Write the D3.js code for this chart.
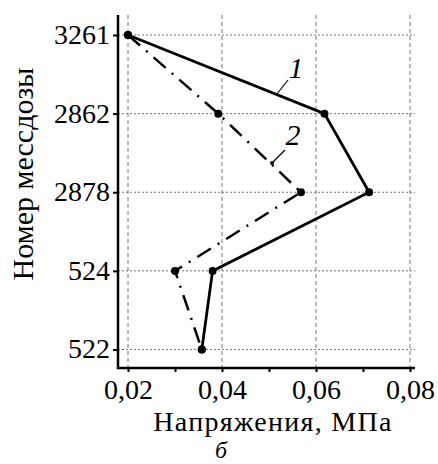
<!DOCTYPE html>
<html>
<head>
<meta charset="utf-8">
<script src="https://cdn.jsdelivr.net/npm/d3@7"></script>
<style>
  body { margin: 0; background: #fff; }
  svg { display: block; }
</style>
</head>
<body>
<svg id="chart" width="438" height="464"></svg>
<script>
// gauge numbers (y categories), top to bottom
const gauges = ["3261", "2862", "2878", "524", "522"];
// stress values, MPa
const series1 = [0.0200, 0.0618, 0.0713, 0.0380, 0.0357];
const series2 = [0.0200, 0.0392, 0.0568, 0.0300, 0.0357];
const xTicks = [0.02, 0.04, 0.06, 0.08];
const xMinorTicks = [0.03, 0.05, 0.07];

const FONT = "'Liberation Serif', 'Times New Roman', Times, 'DejaVu Serif', serif";

const svg = d3.select("#chart");

const plotLeft = 118, plotRight = 415, plotTop = 15, plotBottom = 368;

const x = d3.scaleLinear().domain([0.02, 0.08]).range([128, 410]);
const y = d3.scalePoint().domain(gauges).range([35, 349.5]);

// grid
const grid = svg.append("g");
grid.selectAll("line.vg")
  .data(xTicks)
  .enter()
  .append("line")
  .attr("x1", (d) => x(d)).attr("x2", (d) => x(d))
  .attr("y1", plotTop).attr("y2", plotBottom)
  .attr("stroke", "#777")
  .attr("stroke-width", 1)
  .attr("stroke-dasharray", "4,3");

grid.selectAll("line.hg")
  .data(gauges)
  .enter()
  .append("line")
  .attr("x1", plotLeft).attr("x2", plotRight)
  .attr("y1", (d) => y(d)).attr("y2", (d) => y(d))
  .attr("stroke", "#777")
  .attr("stroke-width", 1)
  .attr("stroke-dasharray", "2,2");

// axes
const xAxis = svg.append("g")
  .attr("transform", `translate(0,${plotBottom})`)
  .call(d3.axisBottom(x).tickValues(xTicks).tickSize(4)
    .tickFormat((d) => d3.format(".2f")(d).replace(".", ",")));
xAxis.attr("font-family", FONT).attr("font-size", 28);
xAxis.select(".domain").remove();
xAxis.selectAll("text").attr("dy", "0.71em").attr("y", 11);

svg.append("g")
  .attr("transform", `translate(0,${plotBottom})`)
  .call(d3.axisBottom(x).tickValues(xMinorTicks).tickSize(4).tickFormat(""))
  .select(".domain").remove();

const yAxis = svg.append("g")
  .attr("transform", `translate(${plotLeft},0)`)
  .call(d3.axisLeft(y).tickSize(5).tickPadding(3));
yAxis.attr("font-family", FONT).attr("font-size", 28);
yAxis.select(".domain").remove();
yAxis.selectAll("text").attr("dy", "0.3em");

svg.selectAll(".tick line").attr("stroke", "#000").attr("stroke-width", 2);

svg.append("path")
  .attr("d", `M${plotLeft},${plotTop}V${plotBottom}H${plotRight}`)
  .attr("fill", "none")
  .attr("stroke", "#000")
  .attr("stroke-width", 2.5);

// lines
const line = d3.line()
  .x((d) => x(d.v))
  .y((d) => y(d.g));

const pts1 = gauges.map((g, i) => ({ g, v: series1[i] }));
const pts2 = gauges.map((g, i) => ({ g, v: series2[i] }));

svg.append("path")
  .datum(pts2)
  .attr("d", line)
  .attr("fill", "none")
  .attr("stroke", "#000")
  .attr("stroke-width", 2.5)
  .attr("stroke-dasharray", "16,8,2,8");

svg.append("path")
  .datum(pts1)
  .attr("d", line)
  .attr("fill", "none")
  .attr("stroke", "#000")
  .attr("stroke-width", 2.8);

svg.append("g")
  .selectAll("circle")
  .data(pts1.concat(pts2))
  .enter()
  .append("circle")
  .attr("cx", (d) => x(d.v))
  .attr("cy", (d) => y(d.g))
  .attr("r", 4)
  .attr("fill", "#000");

// curve labels with leaders
const labels = [
  { t: "1", tx: 296, ty: 78, x1: 288, y1: 80, x2: 277, y2: 94, dot: false },
  { t: "2", tx: 293, ty: 145, x1: 285, y1: 150, x2: 272, y2: 163, dot: true }
];
labels.forEach((l) => {
  svg.append("line")
    .attr("x1", l.x1).attr("y1", l.y1).attr("x2", l.x2).attr("y2", l.y2)
    .attr("stroke", "#000").attr("stroke-width", 1.2);
  if (l.dot) {
    svg.append("circle").attr("cx", l.x2).attr("cy", l.y2).attr("r", 2).attr("fill", "#000");
  }
  svg.append("text")
    .attr("x", l.tx).attr("y", l.ty)
    .attr("text-anchor", "middle")
    .attr("font-family", FONT)
    .attr("font-size", 30)
    .attr("font-style", "italic")
    .text(l.t);
});

// titles
svg.append("text")
  .attr("transform", "translate(33,174) rotate(-90)")
  .attr("text-anchor", "middle")
  .attr("font-family", FONT)
  .attr("font-size", 30)
  .text("Номер мессдозы");

svg.append("text")
  .attr("x", 273).attr("y", 431)
  .attr("text-anchor", "middle")
  .attr("font-family", FONT)
  .attr("font-size", 28)
  .attr("letter-spacing", 1.3)
  .text("Напряжения, МПа");

svg.append("text")
  .attr("x", 221).attr("y", 458)
  .attr("text-anchor", "middle")
  .attr("font-family", FONT)
  .attr("font-size", 24)
  .attr("font-style", "italic")
  .text("б");
</script>
</body>
</html>
